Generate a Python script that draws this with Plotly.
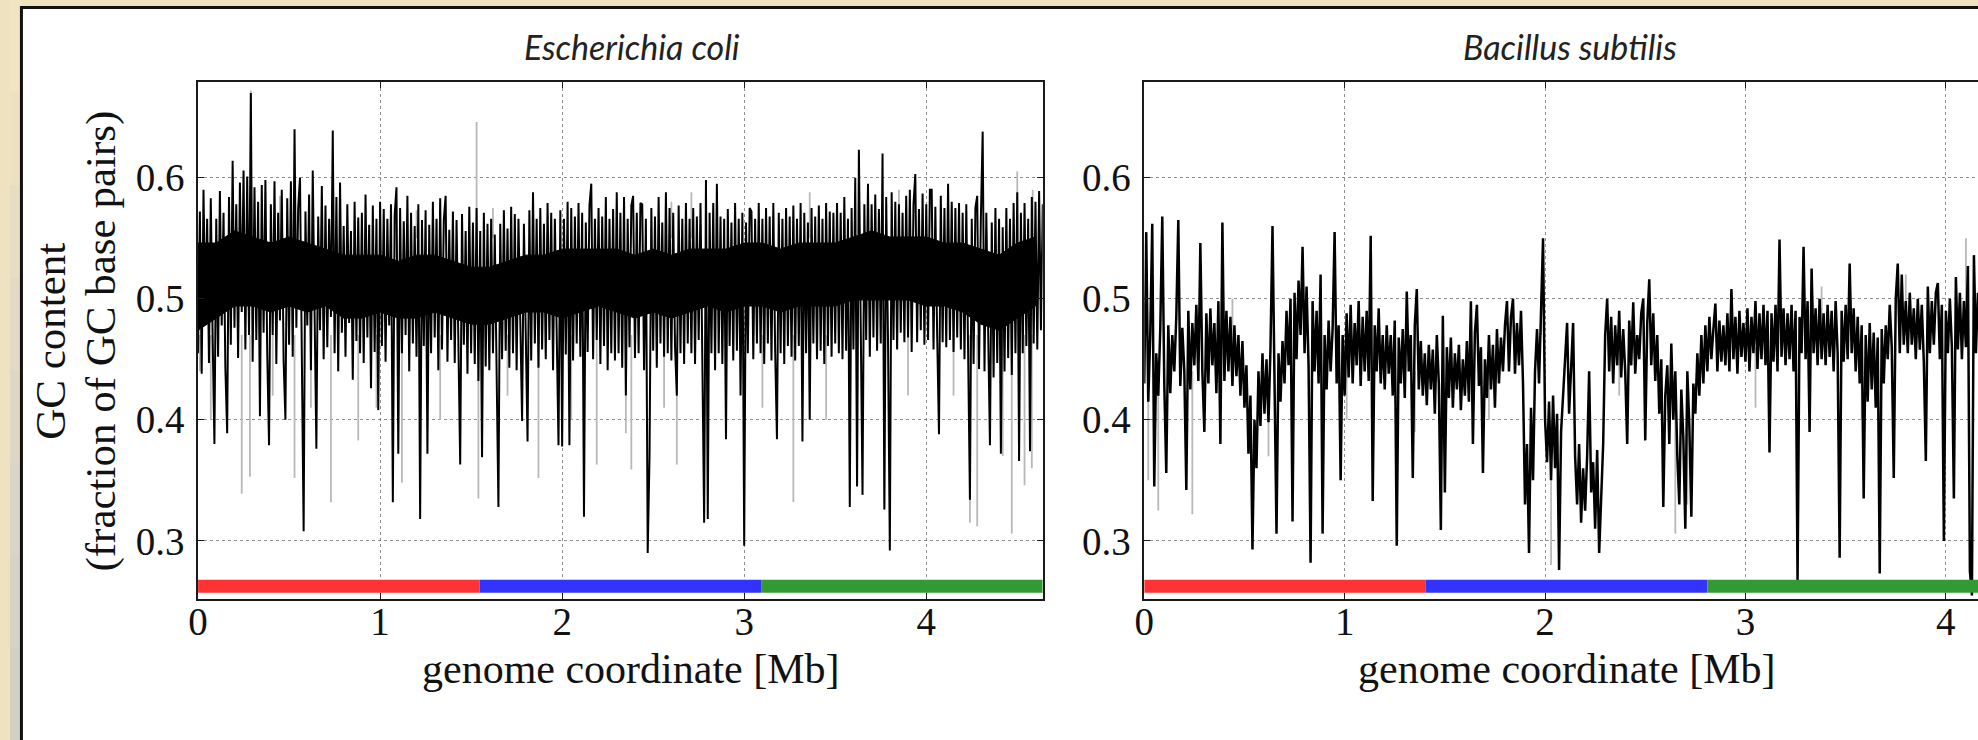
import plotly.graph_objects as go

# ---------------- data (GC content in 0.01 Mb windows, per-mille) ----------------
window_mb = 0.01

ecoli_gc_permille = [
    455, 572, 438, 590, 482, 566, 447, 583, 470, 380,
    566, 452, 589, 478, 571, 443, 389, 584, 462, 614,
    476, 578, 451, 596, 489, 606, 458, 601, 470, 670,
    448, 592, 466, 580, 403, 594, 472, 598, 455, 379,
    578, 470, 597, 446, 571, 482, 590, 449, 400, 583,
    462, 597, 452, 640, 476, 575, 600, 455, 308, 572,
    478, 586, 441, 606, 463, 376, 568, 474, 593, 450,
    577, 460, 566, 485, 639, 455, 584, 440, 596, 472,
    560, 452, 578, 480, 556, 433, 580, 465, 567, 455,
    571, 447, 586, 468, 561, 426, 577, 456, 566, 408,
    580, 461, 574, 448, 566, 478, 578, 332, 569, 592,
    372, 575, 455, 564, 470, 585, 440, 571, 463, 560,
    452, 578, 318, 565, 461, 573, 372, 561, 455, 580,
    468, 566, 441, 583, 458, 565, 585, 448, 557, 466,
    572, 447, 565, 454, 363, 570, 462, 556, 438, 576,
    455, 563, 446, 575, 432, 556, 369, 571, 444, 562,
    441, 566, 455, 553, 436, 328, 562, 450, 573, 457,
    558, 443, 576, 455, 570, 441, 566, 461, 399, 562,
    455, 382, 573, 449, 588, 463, 566, 443, 575, 458,
    562, 450, 579, 466, 571, 441, 566, 455, 379, 573,
    378, 566, 454, 580, 379, 575, 449, 568, 463, 579,
    452, 571, 320, 563, 456, 577, 595, 450, 566, 466,
    575, 446, 568, 461, 584, 441, 566, 455, 574, 449,
    588, 455, 571, 443, 584, 420, 566, 460, 577, 585,
    451, 571, 455, 579, 578, 441, 566, 290, 370, 575,
    457, 568, 443, 584, 463, 563, 452, 588, 455, 575,
    449, 571, 461, 420, 577, 455, 566, 446, 579, 463,
    566, 455, 575, 446, 568, 466, 579, 450, 315, 598,
    318, 571, 455, 579, 441, 595, 455, 568, 446, 566,
    384, 574, 461, 563, 449, 579, 457, 566, 420, 571,
    296, 563, 455, 575, 572, 450, 566, 463, 579, 455,
    566, 446, 575, 463, 568, 449, 579, 457, 384, 571,
    455, 566, 446, 575, 461, 568, 452, 577, 449, 566,
    461, 579, 382, 571, 455, 563, 400, 575, 463, 568,
    450, 577, 457, 566, 446, 579, 461, 572, 452, 571,
    463, 579, 455, 571, 450, 584, 457, 566, 328, 575,
    458, 600, 345, 623, 460, 338, 578, 466, 595, 452,
    578, 468, 586, 457, 574, 463, 620, 326, 584, 465,
    292, 588, 466, 580, 458, 578, 472, 571, 464, 585,
    468, 590, 456, 578, 603, 464, 574, 474, 587, 462,
    578, 466, 590, 590, 458, 576, 470, 388, 585, 464,
    575, 460, 595, 466, 580, 456, 575, 468, 579, 458,
    571, 450, 578, 458, 334, 566, 446, 575, 585, 442,
    566, 638, 440, 571, 452, 379, 563, 435, 575, 447,
    566, 372, 559, 440, 575, 451, 566, 437, 579, 455,
    588, 366, 571, 455, 579, 461, 566, 374, 584, 463,
    580, 458, 589, 474, 578,
]

bsub_gc_permille = [
    430, 555, 415, 470, 562, 345, 455, 420, 475, 568,
    430, 356, 478, 422, 470, 440, 485, 565, 428, 476,
    440, 342, 490, 425, 480, 445, 495, 432, 546, 440,
    390, 488, 430, 492, 445, 480, 422, 498, 380, 563,
    432, 490, 440, 485, 428, 478, 436, 470, 420, 465,
    410, 445, 372, 420, 293, 400, 360, 440, 395, 455,
    405, 450, 398, 460, 560, 410, 306, 455, 415, 465,
    430, 490, 445, 500, 316, 505, 450, 515, 470, 543,
    455, 510, 445, 282, 498, 440, 490, 430, 520, 306,
    470, 425, 482, 440, 475, 555, 430, 478, 350, 470,
    420, 488, 435, 495, 430, 480, 445, 498, 428, 485,
    440, 490, 432, 552, 333, 478, 440, 492, 430, 470,
    425, 478, 438, 470, 420, 482, 296, 468, 430, 475,
    418, 506, 440, 470, 352, 478, 508, 425, 465, 420,
    455, 412, 462, 425, 458, 405, 470, 430, 309, 486,
    340, 460, 418, 468, 410, 455, 425, 462, 408, 450,
    420, 465, 415, 498, 380, 472, 495, 428, 460, 356,
    450, 418, 470, 425, 462, 410, 475, 430, 468, 440,
    478, 498, 440, 485, 500, 438, 480, 445, 490, 430,
    330, 380, 290, 410, 350, 440, 475, 430, 488, 550,
    400, 365, 415, 350, 420, 360, 405, 276, 390, 420,
    440, 480, 405, 450, 480, 370, 330, 380, 315, 360,
    325, 370, 440, 340, 365, 310, 375, 290, 345, 380,
    470, 500, 440, 485, 430, 478, 445, 490, 435, 475,
    440, 380, 482, 445, 497, 438, 470, 450, 488, 500,
    383, 480, 516, 445, 488, 432, 470, 405, 450, 328,
    420, 445, 380, 463, 400, 440, 370, 330, 425, 385,
    310, 440, 395, 320, 430, 405, 455, 420, 470, 430,
    478, 440, 485, 450, 475, 496, 440, 482, 448, 478,
    445, 488, 440, 508, 450, 485, 438, 490, 452, 480,
    448, 492, 440, 485, 455, 498, 442, 488, 450, 495,
    445, 490, 373, 488, 448, 495, 440, 549, 452, 492,
    445, 488, 450, 495, 440, 490, 267, 485, 455, 543,
    450, 498, 390, 525, 455, 492, 445, 500, 450, 488,
    445, 495, 452, 490, 440, 498, 455, 286, 490, 448,
    495, 450, 529, 455, 492, 440, 485, 430, 478, 335,
    470, 415, 480, 425, 472, 410, 468, 273, 475, 430,
    478, 450, 495, 460, 352, 500, 529, 455, 520, 462,
    498, 455, 505, 462, 492, 450, 500, 458, 495, 448,
    366, 510, 455, 498, 462, 505, 513, 450, 495, 300,
    490, 455, 500, 460, 335, 518, 458, 505, 450, 498,
    460, 527, 275, 255, 536, 455, 505, 462, 498, 450,
    500, 460,
]

# dense core of the E. coli profile (windows overlapping into solid black): position [Mb], low/high per-mille
ecoli_core_pos = [0.0, 0.1, 0.2, 0.3, 0.4, 0.5, 0.6, 0.7, 0.8, 0.9,
                  1.0, 1.1, 1.2, 1.3, 1.4, 1.5, 1.6, 1.7, 1.8, 1.9,
                  2.0, 2.1, 2.2, 2.3, 2.4, 2.5, 2.6, 2.7, 2.8, 2.9,
                  3.0, 3.1, 3.2, 3.3, 3.4, 3.5, 3.6, 3.7, 3.8, 3.9,
                  4.0, 4.1, 4.2, 4.3, 4.4, 4.5, 4.6]
ecoli_core_lo = [474, 484, 494, 494, 489, 494, 489, 494, 484, 484,
                 489, 484, 484, 489, 484, 479, 479, 484, 489, 489,
                 484, 489, 494, 489, 484, 489, 484, 489, 494, 489,
                 494, 494, 489, 494, 494, 494, 499, 499, 499, 499,
                 494, 494, 489, 479, 474, 484, 494]
ecoli_core_hi = [546, 546, 556, 551, 546, 551, 546, 541, 536, 536,
                 536, 531, 536, 536, 531, 526, 526, 531, 536, 536,
                 541, 541, 541, 541, 536, 541, 536, 541, 541, 541,
                 546, 546, 541, 546, 546, 546, 551, 556, 551, 551,
                 551, 546, 546, 541, 536, 546, 551]

# light-grey (second profile) excursions: position [Mb], band value, tip value
ecoli_grey_pos = [0.01, 0.07, 0.24, 0.285, 0.29, 0.41, 0.45, 0.53, 0.62, 0.73, 0.88, 0.98,
                  1.12, 1.20, 1.33, 1.53, 1.54, 1.62, 1.70, 1.87, 2.05, 2.19, 2.35, 2.38,
                  2.56, 2.60, 2.63, 2.71, 3.10, 3.27, 3.36, 3.45, 3.77, 3.85, 3.90, 4.15,
                  4.24, 4.28, 4.42, 4.47, 4.50, 4.54, 4.58, 4.585]
ecoli_grey_band = [0.47, 0.47, 0.47, 0.47, 0.56, 0.47, 0.55, 0.47, 0.47, 0.47, 0.47, 0.47,
                   0.47, 0.55, 0.47, 0.55, 0.47, 0.55, 0.47, 0.47, 0.47, 0.47, 0.47, 0.47,
                   0.47, 0.55, 0.47, 0.55, 0.47, 0.47, 0.55, 0.47, 0.47, 0.55, 0.47, 0.47,
                   0.47, 0.47, 0.47, 0.47, 0.55, 0.47, 0.47, 0.55]
ecoli_grey_tip = [0.44, 0.40, 0.339, 0.353, 0.672, 0.42, 0.585, 0.352, 0.41, 0.332, 0.383, 0.41,
                  0.348, 0.573, 0.40, 0.646, 0.335, 0.575, 0.42, 0.352, 0.40, 0.363, 0.389, 0.359,
                  0.41, 0.58, 0.363, 0.588, 0.41, 0.332, 0.588, 0.40, 0.326, 0.59, 0.42, 0.42,
                  0.315, 0.312, 0.37, 0.306, 0.605, 0.346, 0.36, 0.59]

bsub_grey_pos = [0.02, 0.07, 0.24, 0.44, 0.62, 1.01, 1.35, 1.72, 1.98, 2.03, 2.37, 2.65,
                 2.71, 3.05, 3.38, 3.58, 3.80, 4.10]
bsub_grey_band = [0.43, 0.43, 0.44, 0.45, 0.43, 0.45, 0.44, 0.44, 0.47, 0.40, 0.46, 0.42,
                  0.42, 0.46, 0.47, 0.45, 0.47, 0.47]
bsub_grey_tip = [0.35, 0.325, 0.322, 0.50, 0.37, 0.40, 0.39, 0.40, 0.505, 0.28, 0.42, 0.306,
                 0.33, 0.41, 0.51, 0.40, 0.52, 0.55]

# chromosome thirds shown as the coloured strip [Mb]
ecoli_thirds = [0.0, 1.547, 3.093, 4.64]
bsub_thirds = [0.0, 1.405, 2.81, 4.215]
strip_level = 0.2625

titles = ["Escherichia coli", "Bacillus subtilis"]
x_title = "genome coordinate [Mb]"
y_title_1 = "GC content"
y_title_2 = "(fraction of GC base pairs)"
x_ticks = [0, 1, 2, 3, 4]
y_ticks = [0.3, 0.4, 0.5, 0.6]

# ---------------- layout geometry (pixels) ----------------
W, H = 1978, 740
plot_top, plot_bottom = 82, 599
left_x0, left_x1 = 189, 1038
right_x0 = 1140
right_px_per_mb = 849 / 4.215

def px(x):
    return x / W

def py(y):
    return 1 - y / H

SERIF = "Liberation Serif, Times New Roman, serif"
strip_colors = ["#ff3333", "#3333ff", "#339933"]

fig = go.Figure()

def grey_segments(pos, band, tip):
    xs, ys = [], []
    for p, b, t in zip(pos, band, tip):
        xs += [p, p, None]
        ys += [b, t, None]
    return xs, ys

panels = [
    (ecoli_gc_permille, (ecoli_core_pos, ecoli_core_lo, ecoli_core_hi), ecoli_grey_pos,
     ecoli_grey_band, ecoli_grey_tip, ecoli_thirds, "x", "y", 2.0),
    (bsub_gc_permille, None, bsub_grey_pos,
     bsub_grey_band, bsub_grey_tip, bsub_thirds, "x2", "y2", 2.5),
]

for gc, core, gpos, gband, gtip, thirds, xa, ya, lw in panels:
    gx, gy = grey_segments(gpos, gband, gtip)
    fig.add_trace(go.Scatter(x=gx, y=gy, mode="lines", xaxis=xa, yaxis=ya,
                             line=dict(color="#b8b8b8", width=1.8),
                             hoverinfo="skip", showlegend=False))
    if core is not None:
        cpos, clo, chi = core
        fig.add_trace(go.Scatter(x=cpos + cpos[::-1],
                                 y=[v / 1000 for v in clo] + [v / 1000 for v in chi[::-1]],
                                 mode="lines", fill="toself", fillcolor="black", xaxis=xa, yaxis=ya,
                                 line=dict(color="black", width=1),
                                 hoverinfo="skip", showlegend=False))
    xs = [i * window_mb for i in range(len(gc))]
    ys = [v / 1000 for v in gc]
    fig.add_trace(go.Scatter(x=xs, y=ys, mode="lines", xaxis=xa, yaxis=ya,
                             line=dict(color="black", width=lw),
                             hoverinfo="skip", showlegend=False))
    for k in range(3):
        fig.add_trace(go.Scatter(x=[thirds[k], thirds[k + 1]], y=[strip_level, strip_level],
                                 mode="lines", xaxis=xa, yaxis=ya,
                                 line=dict(color=strip_colors[k], width=13),
                                 hoverinfo="skip", showlegend=False))

axis_common = dict(
    showgrid=True, gridcolor="rgba(70,70,70,0.6)", griddash="dot", gridwidth=1,
    zeroline=False, showline=True, linecolor="#1a1a1a", linewidth=1.6,
    ticks="inside", ticklen=6, tickwidth=1, tickcolor="#1a1a1a",
    tickfont=dict(family=SERIF, size=39, color="#111"),
)

fig.update_layout(
    width=W, height=H,
    margin=dict(l=0, r=0, t=0, b=0),
    paper_bgcolor="#eee2c0",
    plot_bgcolor="white",
    xaxis=dict(axis_common, domain=[px(left_x0), px(left_x1)], range=[0, 4.64],
               tickvals=x_ticks, ticktext=[str(t) for t in x_ticks], mirror="ticks",
               anchor="y", ticklabelstandoff=-13),
    yaxis=dict(axis_common, domain=[py(plot_bottom), py(plot_top)], range=[0.252, 0.679],
               tickvals=y_ticks, ticktext=[f"{t:.1f}" for t in y_ticks], mirror="ticks",
               anchor="x", ticklabelstandoff=4),
    xaxis2=dict(axis_common, domain=[px(right_x0), 1.0],
                range=[0, (W - right_x0) / right_px_per_mb],
                tickvals=x_ticks, ticktext=[str(t) for t in x_ticks], mirror="ticks",
                anchor="y2", ticklabelstandoff=-13),
    yaxis2=dict(axis_common, domain=[py(plot_bottom), py(plot_top)], range=[0.252, 0.679],
                tickvals=y_ticks, ticktext=[f"{t:.1f}" for t in y_ticks], mirror=False,
                anchor="x2", ticklabelstandoff=4),
)

# slide background: beige frame with a soft grey gradient on the left, white card with black border
strip_shades = ["#f0e4c2", "#ece1c2", "#e7ddc3", "#e2dac4", "#ddd7c5", "#d8d5c6", "#d4d3c6", "#d0d0c5"]
n = len(strip_shades)
shapes = []
for k, c in enumerate(strip_shades):
    shapes.append(dict(type="rect", xref="paper", yref="paper", x0=0, x1=px(12),
                       y0=1 - (k + 1) / n, y1=1 - k / n, fillcolor=c, line=dict(width=0), layer="below"))
shapes.append(dict(type="rect", xref="paper", yref="paper", x0=px(11.5), x1=1.02,
                   y0=-0.05, y1=py(7.5), fillcolor="white",
                   line=dict(color="#111", width=3), layer="below"))
fig.update_layout(shapes=shapes)

annotations = []
for title, cx in zip(titles, [625, 1568]):
    annotations.append(dict(text=f"<i>{title}</i>", x=px(cx), y=py(46), xref="paper", yref="paper",
                            xanchor="center", yanchor="middle", showarrow=False,
                            font=dict(family="Lato, Open Sans, sans-serif", size=34, color="#222")))
for cx in [624, right_x0 + 849 / 2]:
    annotations.append(dict(text=x_title, x=px(cx), y=py(669), xref="paper", yref="paper",
                            xanchor="center", yanchor="middle", showarrow=False,
                            font=dict(family=SERIF, size=42, color="#111")))
annotations.append(dict(text=y_title_1, x=px(40), y=py(341), xref="paper", yref="paper",
                        xanchor="center", yanchor="middle", textangle=-90, showarrow=False,
                        font=dict(family=SERIF, size=43, color="#111")))
annotations.append(dict(text=y_title_2, x=px(91), y=py(341), xref="paper", yref="paper",
                        xanchor="center", yanchor="middle", textangle=-90, showarrow=False,
                        font=dict(family=SERIF, size=43, color="#111")))
fig.update_layout(annotations=annotations)

fig.write_html("out.html", config={"displayModeBar": False},
               post_script="document.body.style.margin='0';document.body.style.overflow='hidden';")
